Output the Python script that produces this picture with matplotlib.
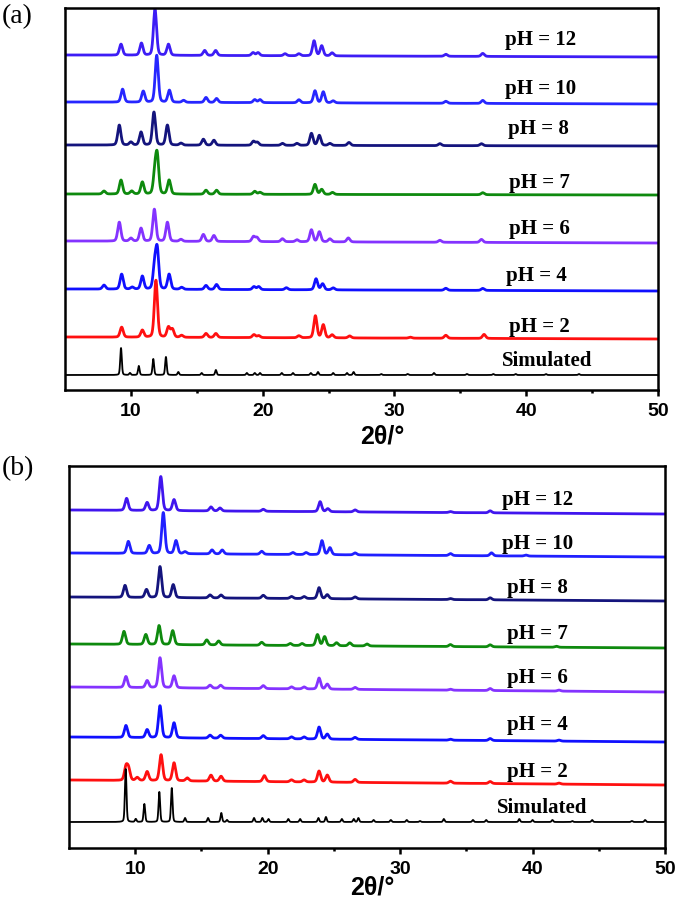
import matplotlib
matplotlib.use("Agg")
import matplotlib.pyplot as plt
import numpy as np

# peak tables: (2theta, height above baseline)
# panel (a)
a_names = ["pH = 12", "pH = 10", "pH = 8", "pH = 7", "pH = 6", "pH = 4", "pH = 2", "Simulated"]
a_offsets = [335, 288, 245, 196, 149, 101, 53, 15]
a_drop = [2, 2, 1, 1, 2, 2, 2, 0]   # baseline drop from 5 to 50 deg
a_label_y = [350, 301, 261, 207, 161, 114, 63, 29]
a_label_x = [41.1, 41.1, 40.9, 41.0, 41.0, 40.8, 41.0, 41.6]
a_peaks = [
    [(9.25, 11), (10.8, 12), (11.83, 46), (12.85, 11), (15.6, 5), (16.43, 5), (19.27, 3), (19.65, 3),
     (21.7, 2), (22.75, 2), (23.9, 15), (24.48, 10), (25.27, 3), (33.9, 2), (36.7, 3)],
    [(9.37, 13), (10.94, 11), (11.96, 47), (12.92, 12), (14.0, 2), (15.7, 5), (16.5, 4), (19.4, 3),
     (19.8, 3), (22.75, 3), (23.97, 12), (24.6, 11), (25.35, 2), (33.9, 2), (36.7, 3)],
    [(9.12, 20), (10.0, 3), (10.77, 13), (11.75, 33), (12.77, 20), (13.8, 2), (15.5, 6), (16.3, 5),
     (19.3, 4), (19.6, 3), (21.5, 2), (22.6, 2), (23.7, 12), (24.3, 10), (25.1, 2), (26.55, 3),
     (33.45, 2), (36.6, 2)],
    [(7.96, 3), (9.25, 14), (10.06, 3), (10.87, 12), (11.82, 20), (12.0, 36), (12.9, 14), (15.7, 4),
     (16.5, 4), (19.4, 3), (19.8, 2), (23.97, 10), (24.48, 5), (25.3, 2), (36.7, 2)],
    [(9.12, 19), (10.0, 3), (10.77, 13), (11.78, 32), (12.77, 19), (13.8, 2), (15.5, 7), (16.3, 6),
     (19.3, 5), (19.57, 4), (21.5, 3), (22.6, 2), (23.7, 12), (24.3, 10), (25.1, 3), (26.5, 4),
     (33.45, 2), (36.6, 3)],
    [(7.96, 4), (9.3, 15), (10.1, 2), (10.87, 13), (11.8, 22), (12.0, 38), (12.9, 15), (13.85, 2),
     (15.7, 4), (16.5, 5), (19.34, 3), (19.7, 3), (21.8, 2), (24.05, 11), (24.55, 6), (25.35, 2),
     (33.9, 2), (36.7, 2)],
    [(9.3, 10), (10.87, 7), (11.9, 57), (12.85, 10), (13.15, 8), (13.85, 2), (15.7, 4), (16.45, 4),
     (19.34, 3), (19.7, 2), (22.75, 2), (24.0, 22), (24.6, 13), (25.27, 3), (26.6, 2), (31.2, 1),
     (33.9, 3), (36.8, 4)],
    [(9.25, 27), (9.93, 2), (10.6, 9), (11.7, 16), (12.66, 18), (13.6, 3), (15.37, 2), (16.45, 5),
     (18.8, 2), (19.4, 2), (19.8, 2), (21.45, 2), (22.3, 2), (23.65, 2), (24.2, 3), (25.35, 2),
     (26.4, 2), (26.9, 3), (29.0, 1), (31.0, 1), (33.0, 2), (35.5, 1), (37.5, 1), (39.2, 1),
     (41.5, 1), (44.0, 1)],
]
a_colors = ["#3d1df5", "#2626ff", "#14147d", "#0e8a0e", "#8433ff", "#1010ff", "#ff1010", "black"]

# panel (b)
b_names = a_names
b_offsets = [338, 295, 251, 204, 161, 111, 68, 26]
b_drop = [4, 4, 4, 4, 5, 5, 5, 0]
b_label_y = [348, 304, 260, 214, 170, 123, 76, 40]
b_label_x = [40.4, 40.4, 40.4, 40.4, 40.35, 40.35, 40.35, 40.7]
b_peaks = [
    [(9.35, 12), (10.9, 8), (11.93, 34), (12.93, 11), (15.72, 4), (16.4, 3), (19.67, 2), (23.96, 10),
     (24.54, 3), (26.6, 2), (33.8, 1), (36.8, 2)],
    [(9.48, 12), (11.06, 8), (12.12, 41), (13.08, 13), (13.76, 2), (15.8, 4), (16.57, 4), (19.55, 3),
     (21.9, 2), (22.9, 2), (24.1, 14), (24.7, 7), (26.6, 2), (33.8, 2), (36.9, 3), (39.5, 1)],
    [(9.23, 12), (10.85, 8), (11.87, 31), (12.87, 13), (15.65, 3), (16.48, 3), (19.67, 3), (21.8, 2),
     (22.75, 2), (23.88, 11), (24.5, 4), (26.6, 2), (33.8, 1), (36.8, 2)],
    [(9.15, 13), (10.8, 10), (11.8, 19), (12.83, 14), (15.4, 5), (16.3, 4), (19.55, 3), (21.7, 2),
     (22.6, 2), (23.76, 11), (24.3, 9), (25.2, 3), (26.2, 3), (27.5, 2), (33.8, 2), (36.8, 2), (41.8, 1)],
    [(9.3, 11), (10.9, 7), (11.87, 30), (12.93, 12), (15.65, 3), (16.45, 3), (19.67, 3), (21.8, 2),
     (22.75, 2), (23.88, 11), (24.5, 5), (26.6, 2), (33.8, 1), (36.8, 2), (42.0, 1)],
    [(9.3, 12), (10.9, 8), (11.87, 32), (12.93, 15), (15.65, 3), (16.45, 3), (19.67, 3), (21.8, 2),
     (22.75, 2), (23.88, 12), (24.5, 5), (26.6, 2), (33.8, 1), (36.8, 2), (42.0, 1)],
    [(9.3, 13), (9.5, 11), (10.15, 3), (10.9, 9), (11.95, 26), (12.93, 18), (13.93, 3), (15.72, 6),
     (16.48, 5), (19.75, 6), (21.8, 2), (22.75, 2), (23.88, 11), (24.5, 7), (26.6, 3), (33.8, 2),
     (36.8, 2), (42.0, 1)],
    [(9.28, 53), (10.04, 3), (10.69, 18), (11.82, 30), (12.76, 34), (13.76, 4), (15.5, 4), (16.5, 9),
     (16.93, 2), (18.97, 4), (19.6, 4), (20.06, 3), (21.56, 3), (22.45, 3), (23.83, 4), (24.4, 5),
     (25.6, 3), (26.5, 3), (26.85, 4), (28.0, 2), (29.3, 2), (30.5, 2), (31.5, 1), (33.3, 3),
     (35.5, 2), (36.5, 2), (39.0, 3), (40.0, 2), (41.5, 2), (43.0, 1), (44.5, 2), (47.5, 1), (48.5, 2)],
]
b_colors = ["#4015ee", "#2020ff", "#14147d", "#0e8a0e", "#8433ff", "#1010ff", "#ff1010", "black"]

x_ticks = [10, 20, 30, 40, 50]


def profile(x, peaks, w):
    # pseudo-voigt peak shapes summed on the grid
    y = np.zeros_like(x)
    for p, h in peaks:
        d = (x - p) / w
        y += h * (0.75 * np.exp(-0.693 * d * d) + 0.25 / (1 + d * d))
    return y


def draw_panel(ax, names, offsets, drops, peaks, colors, lab_x, lab_y):
    x = np.linspace(5, 50, 6000)
    for i in range(len(names)):
        if names[i] == "Simulated":
            y = profile(x, peaks[i], 0.07)
            lw = 1.3
        else:
            y = profile(x, peaks[i], 0.14)
            lw = 2.0
        base = offsets[i] - drops[i] * (x - 5) / 45
        ax.plot(x, y + base, color=colors[i], lw=lw)
        ax.text(lab_x[i], lab_y[i], names[i], ha="center", va="center",
                fontsize=15, fontweight="bold", family="Liberation Serif")
    ax.set_xlim(5, 50)
    ax.set_ylim(0, 382)
    ax.set_yticks([])
    ax.set_xticks(x_ticks)
    ax.set_xticks(range(15, 50, 10), minor=True)
    ax.tick_params(axis="x", which="major", direction="out", length=4, width=1.8, pad=5)
    ax.tick_params(axis="x", which="minor", direction="out", length=2.5, width=1.8)
    for lab in ax.get_xticklabels():
        lab.set_fontsize(14)
        lab.set_fontweight("bold")
        lab.set_family("Liberation Sans")
    for s in ax.spines.values():
        s.set_linewidth(1.8)


fig = plt.figure(figsize=(6.8, 9.05), dpi=100)
ax1 = fig.add_axes([65 / 680, 1 - 390 / 905, 593 / 680, 382 / 905])
ax2 = fig.add_axes([69 / 680, 1 - 848 / 905, 596 / 680, 382 / 905])

draw_panel(ax1, a_names, a_offsets, a_drop, a_peaks, a_colors, a_label_x, a_label_y)
draw_panel(ax2, b_names, b_offsets, b_drop, b_peaks, b_colors, b_label_x, b_label_y)

ax1.text((382 - 65) / 593, -46 / 382, "2θ/°", transform=ax1.transAxes, ha="center", va="center",
         fontsize=18, fontweight="bold", family="Liberation Sans")
ax2.text((372 - 69) / 596, -39 / 382, "2θ/°", transform=ax2.transAxes, ha="center", va="center",
         fontsize=18, fontweight="bold", family="Liberation Sans")

fig.text(17 / 680, 1 - 17 / 905, "(a)", ha="center", va="center", fontsize=20, family="Liberation Serif")
fig.text(18 / 680, 1 - 469 / 905, "(b)", ha="center", va="center", fontsize=20, family="Liberation Serif")

fig.savefig("out.png", dpi=100)
